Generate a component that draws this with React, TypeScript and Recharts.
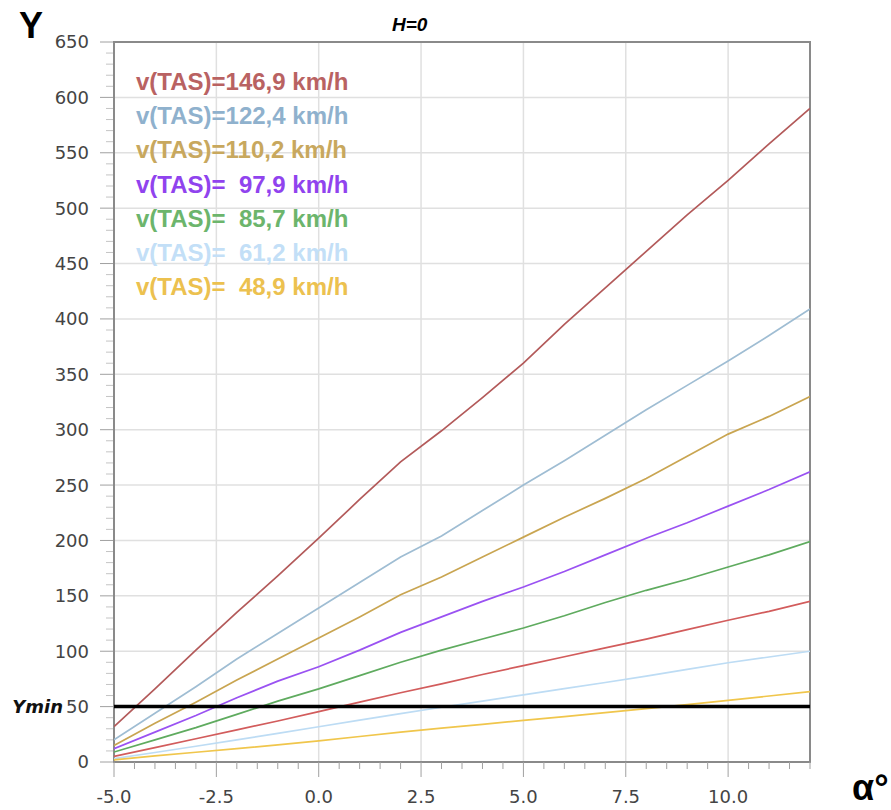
import { LineChart, Line, XAxis, YAxis, CartesianGrid, ReferenceLine, ReferenceArea, Legend } from "recharts"

// angle of attack, degrees
const ALPHA = [-5, -4, -3, -2, -1, 0, 1, 2, 3, 4, 5, 6, 7, 8, 9, 10, 11, 12]

// Y, one list per airspeed
const V146 = [32, 66, 101, 135, 168, 202, 237, 271, 299, 329, 360, 395, 428, 461, 494, 525, 558, 590]
const V122 = [20, 44, 68, 93, 116, 139, 162, 185, 204, 227, 250, 272, 295, 318, 340, 362, 385, 409]
const V110 = [15, 35, 54, 74, 93, 112, 131, 151, 167, 185, 203, 221, 238, 256, 276, 296, 312, 330]
const V98 = [12, 27, 42, 58, 73, 86, 101, 117, 131, 145, 158, 172, 187, 202, 216, 231, 246, 262]
const V86 = [9, 20, 31, 43, 55, 66, 78, 90, 101, 111, 121, 132, 144, 155, 165, 176, 187, 199]
const V73 = [5, 13, 21, 29, 37, 45.5, 54, 62.5, 70.5, 79, 87, 95, 103, 111, 119.5, 128, 136, 145]
const V61 = [3, 8.6, 14.2, 20, 25.8, 31.8, 37.8, 43.6, 49.4, 55, 60.6, 66.2, 71.8, 77.6, 83.6, 89.6, 94.8, 100]
const V49 = [2, 5.5, 8.8, 12, 15.4, 19, 23, 27, 30.5, 34, 37.6, 41, 44.6, 48.2, 51.8, 55.6, 59.6, 63.6]

const Y_MIN = 50

const X_MAJOR = [-5, -2.5, 0, 2.5, 5, 7.5, 10]
const Y_MAJOR = [0, 50, 100, 150, 200, 250, 300, 350, 400, 450, 500, 550, 600, 650]
const X_TICKS = Array.from({ length: 35 }, (_, i) => -5 + i * 0.5)
const Y_TICKS = Array.from({ length: 66 }, (_, i) => i * 10)

const SERIES = [
  { key: "v146", label: "v(TAS)=146,9 km/h", values: V146, color: "#b35a5a", text: "#b96262", legend: true },
  { key: "v122", label: "v(TAS)=122,4 km/h", values: V122, color: "#9fbdd3", text: "#8fb1cd", legend: true },
  { key: "v110", label: "v(TAS)=110,2 km/h", values: V110, color: "#c9a551", text: "#c8a85e", legend: true },
  { key: "v98", label: "v(TAS)=  97,9 km/h", values: V98, color: "#9a52f2", text: "#9043ee", legend: true },
  { key: "v86", label: "v(TAS)=  85,7 km/h", values: V86, color: "#5fab5f", text: "#6cb56c", legend: true },
  { key: "v73", label: "v(TAS)=  73,4 km/h", values: V73, color: "#d25c5c", text: "#d25c5c", legend: false },
  { key: "v61", label: "v(TAS)=  61,2 km/h", values: V61, color: "#bddcf4", text: "#c3dff7", legend: true },
  { key: "v49", label: "v(TAS)=  48,9 km/h", values: V49, color: "#f0c64c", text: "#ecc14f", legend: true },
]

const data = ALPHA.map((a, i) => {
  const row: any = { alpha: a }
  SERIES.forEach((s) => (row[s.key] = s.values[i]))
  return row
})

function XTick({ x, y, payload }: any) {
  const v = payload.value
  const major = X_MAJOR.includes(v)
  return (
    <g>
      <line x1={x} x2={x} y1={y} y2={y + (major ? 15 : 7)} stroke="#a0a0a0" />
      {major && (
        <text x={x} y={y + 41} textAnchor="middle" fill="#444" fontSize={18} fontFamily="DejaVu Sans">
          {v.toFixed(1)}
        </text>
      )}
    </g>
  )
}

function YTick({ x, y, payload }: any) {
  const v = payload.value
  const major = Y_MAJOR.includes(v)
  return (
    <g>
      <line x1={x - (major ? 14 : 8)} x2={x - 1} y1={y} y2={y} stroke={major ? "#a0a0a0" : "#c4c4c4"} />
      {major && (
        <text x={x - 25} y={y} dy="0.36em" textAnchor="end" fill="#444" fontSize={18} fontFamily="DejaVu Sans">
          {v}
        </text>
      )}
    </g>
  )
}

const SpeedLegend = () => (
  <div style={{ fontFamily: "Liberation Sans, Arial", fontWeight: "bold", fontSize: 24, lineHeight: "34.2px" }}>
    {SERIES.filter((s) => s.legend).map((s) => (
      <div key={s.key} style={{ color: s.text, whiteSpace: "pre" }}>
        {s.label}
      </div>
    ))}
  </div>
)

export default function App() {
  return (
    <div style={{ position: "absolute", left: 0, top: 0, width: 891, height: 810, background: "#fff" }}>
      <LineChart width={891} height={810} data={data} margin={{ top: 42, right: 81, left: 0, bottom: 0 }}>
        <CartesianGrid stroke="#e0e0e0" strokeWidth={1.5} horizontalValues={Y_MAJOR} verticalValues={X_MAJOR} />
        <XAxis
          type="number"
          dataKey="alpha"
          domain={[-5, 12]}
          ticks={X_TICKS}
          interval={0}
          height={48}
          axisLine={false}
          tickLine={false}
          tickSize={0}
          tickMargin={0}
          tick={<XTick />}
          allowDataOverflow
        />
        <YAxis
          type="number"
          domain={[0, 650]}
          ticks={Y_TICKS}
          interval={0}
          width={114}
          axisLine={false}
          tickLine={false}
          tickSize={0}
          tickMargin={0}
          tick={<YTick />}
          allowDataOverflow
        />
        <ReferenceArea x1={-5} x2={12} y1={0} y2={650} fill="none" fillOpacity={0} stroke="#8a8a8a" strokeWidth={2} />
        {SERIES.map((s) => (
          <Line
            key={s.key}
            type="linear"
            dataKey={s.key}
            name={s.label}
            stroke={s.color}
            strokeWidth={1.7}
            dot={false}
            legendType={s.legend ? "line" : "none"}
            isAnimationActive={false}
          />
        ))}
        <ReferenceLine
          y={Y_MIN}
          stroke="#000"
          strokeWidth={3.5}
          label={{
            value: "Ymin",
            position: "left",
            offset: 51,
            fill: "#111",
            fontSize: 18,
            fontWeight: "bold",
            fontStyle: "italic",
            fontFamily: "DejaVu Sans",
          }}
        />
        <Legend
          layout="vertical"
          align="center"
          verticalAlign="middle"
          content={<SpeedLegend />}
          wrapperStyle={{ left: 136, top: 65, width: "auto", height: "auto" }}
        />
      </LineChart>
      <div style={{ position: "absolute", left: 19, top: 8, fontFamily: "Liberation Sans, Arial", fontWeight: "bold", fontSize: 36, lineHeight: 1 }}>
        Y
      </div>
      <div
        style={{
          position: "absolute",
          left: 392,
          top: 15,
          fontFamily: "Liberation Sans, Arial",
          fontWeight: "bold",
          fontStyle: "italic",
          fontSize: 19,
          lineHeight: 1,
        }}
      >
        H=0
      </div>
      <div style={{ position: "absolute", left: 852, top: 770, fontFamily: "Liberation Sans, Arial", fontWeight: "bold", fontSize: 36, lineHeight: 1 }}>
        α°
      </div>
    </div>
  )
}
